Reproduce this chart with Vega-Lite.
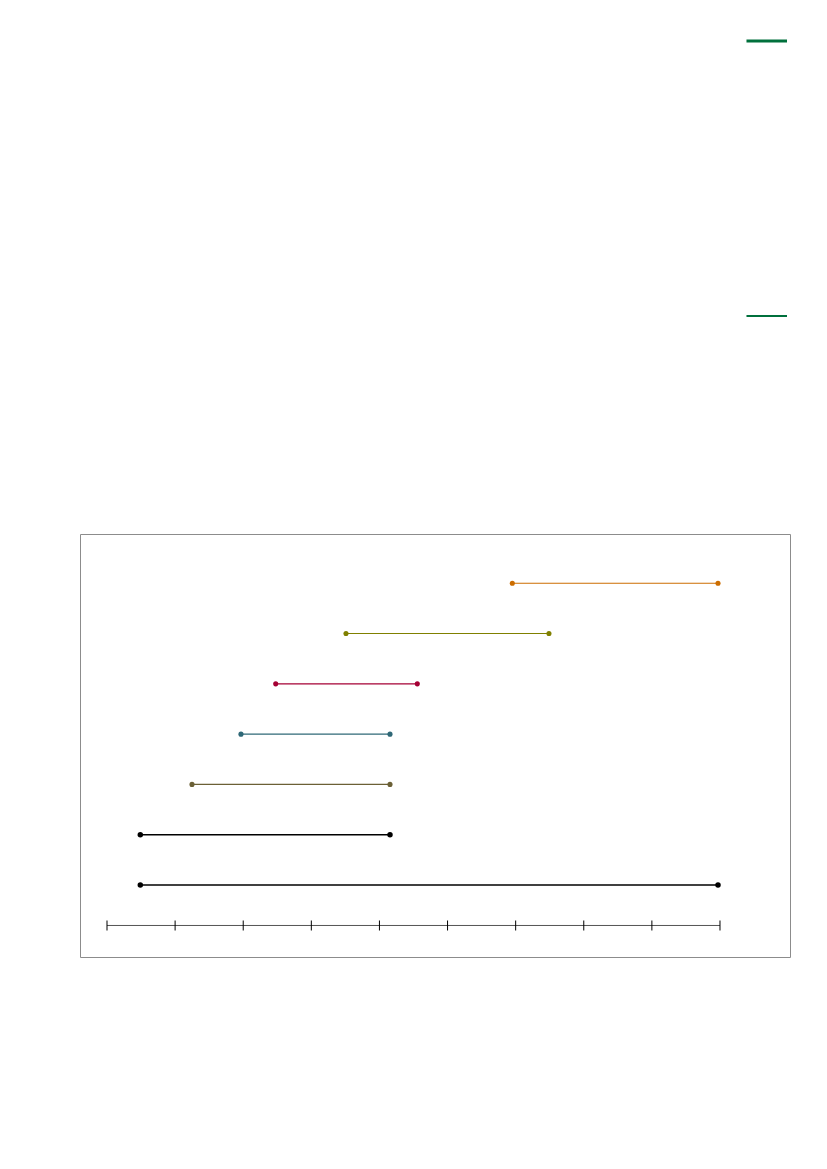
{
  "$schema": "https://vega.github.io/schema/vega-lite/v6.json",
  "background": "white",
  "padding": {"left": 79, "top": 39, "right": 38, "bottom": 214},
  "spacing": 216,
  "datasets": {
    "marks": [
      {"level": 1, "x0": 9.389, "x1": 9.984},
      {"level": 0, "x0": 9.389, "x1": 9.984}
    ],
    "spans": [
      {"row": 7, "group": "orange", "start": 5.951, "end": 8.971},
      {"row": 6, "group": "olive", "start": 3.509, "end": 6.489},
      {"row": 5, "group": "crimson", "start": 2.477, "end": 4.556},
      {"row": 4, "group": "teal", "start": 1.967, "end": 4.155},
      {"row": 3, "group": "brown", "start": 1.248, "end": 4.155},
      {"row": 2, "group": "black", "start": 0.489, "end": 4.155},
      {"row": 1, "group": "black", "start": 0.489, "end": 8.971}
    ],
    "axisTicks": [
      {"t": 0, "level": 0.195}, {"t": 1, "level": 0.195},
      {"t": 2, "level": 0.195}, {"t": 3, "level": 0.195},
      {"t": 4, "level": 0.195}, {"t": 5, "level": 0.195},
      {"t": 6, "level": 0.195}, {"t": 7, "level": 0.195},
      {"t": 8, "level": 0.195}, {"t": 9, "level": 0.195}
    ]
  },
  "vconcat": [
    {
      "width": 710,
      "height": 277,
      "view": {"stroke": null},
      "data": {"name": "marks"},
      "mark": {"type": "rule", "color": "#00703c"},
      "encoding": {
        "x": {"field": "x0", "type": "quantitative", "scale": {"domain": [-0.3964, 10.028], "nice": false, "zero": false}, "axis": null},
        "x2": {"field": "x1"},
        "y": {"field": "level", "type": "quantitative", "scale": {"domain": [0, 1.00727], "nice": false, "zero": false}, "axis": null},
        "strokeWidth": {"condition": {"test": "datum.level == 1", "value": 3}, "value": 2}
      }
    },
    {
      "width": 710,
      "height": 423,
      "view": {"stroke": "#8c8c8c", "strokeWidth": 1},
      "encoding": {
        "y": {"field": "row", "type": "quantitative", "scale": {"domain": [-0.432, 7.98], "nice": false, "zero": false}, "axis": null}
      },
      "layer": [
        {
          "data": {"name": "spans"},
          "mark": {"type": "rule"},
          "encoding": {
            "x": {"field": "start", "type": "quantitative", "scale": {"domain": [-0.3964, 10.028], "nice": false, "zero": false}, "axis": null},
            "x2": {"field": "end"},
            "color": {
              "field": "group", "type": "nominal", "legend": null,
              "scale": {"domain": ["orange", "olive", "crimson", "teal", "brown", "black"],
                        "range": ["#cc6d00", "#808000", "#a50034", "#2f6877", "#6b6036", "#000000"]}
            },
            "strokeWidth": {"condition": {"test": "datum.group == 'black'", "value": 1.5}, "value": 1.1}
          }
        },
        {
          "data": {"name": "spans"},
          "mark": {"type": "point", "filled": true, "opacity": 1},
          "encoding": {
            "x": {"field": "start", "type": "quantitative"},
            "color": {"field": "group", "type": "nominal", "legend": null},
            "size": {"condition": {"test": "datum.group == 'black'", "value": 30}, "value": 26}
          }
        },
        {
          "data": {"name": "spans"},
          "mark": {"type": "point", "filled": true, "opacity": 1},
          "encoding": {
            "x": {"field": "end", "type": "quantitative"},
            "color": {"field": "group", "type": "nominal", "legend": null},
            "size": {"condition": {"test": "datum.group == 'black'", "value": 30}, "value": 26}
          }
        },
        {
          "data": {"name": "axisTicks"},
          "mark": {"type": "rule", "color": "#555555", "strokeWidth": 1},
          "encoding": {
            "x": {"aggregate": "min", "field": "t", "type": "quantitative"},
            "x2": {"aggregate": "max", "field": "t"},
            "y": {"field": "level", "type": "quantitative"}
          }
        },
        {
          "data": {"name": "axisTicks"},
          "mark": {"type": "tick", "orient": "vertical", "size": 10, "thickness": 1, "color": "#000000", "opacity": 1},
          "encoding": {
            "x": {"field": "t", "type": "quantitative"},
            "y": {"field": "level", "type": "quantitative"}
          }
        }
      ]
    }
  ]
}
